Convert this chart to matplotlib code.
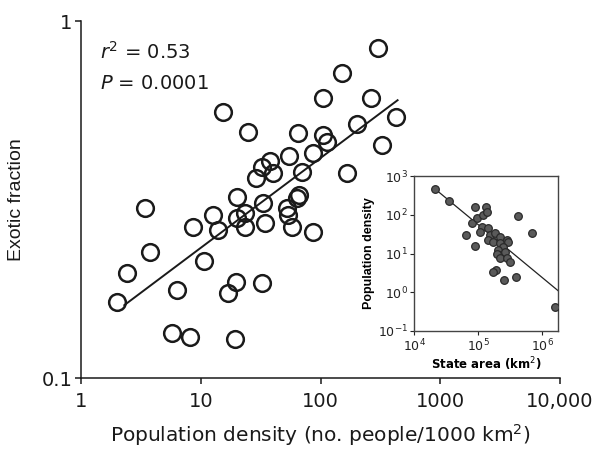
import matplotlib
matplotlib.use('Agg')
import matplotlib.pyplot as plt
import numpy as np

# main panel: exotic fraction vs population density (one circle per state)
pop_density = [2.0, 2.4, 3.4, 3.8, 6.3, 5.8, 8.1, 8.6, 10.6, 12.6,
               13.9, 15.3, 16.8, 19.6, 19.2, 20.0, 20.0, 23.3, 23.3, 24.6,
               28.7, 32.2, 32.9, 32.2, 34.1, 37.6, 39.8, 52.1, 53.1, 54.1,
               57.3, 63.1, 66.0, 64.3, 69.5, 85.8, 85.8, 104, 104, 114,
               150, 165, 203, 266, 304, 329, 430]
exotic_frac = [0.163, 0.197, 0.30, 0.225, 0.176, 0.134, 0.130, 0.265, 0.213, 0.286,
               0.260, 0.556, 0.173, 0.186, 0.129, 0.321, 0.281, 0.290, 0.265, 0.489,
               0.363, 0.390, 0.309, 0.185, 0.272, 0.405, 0.375, 0.299, 0.286, 0.419,
               0.265, 0.319, 0.325, 0.485, 0.378, 0.427, 0.256, 0.608, 0.479, 0.458,
               0.714, 0.375, 0.514, 0.608, 0.84, 0.45, 0.538]

# regression line end points
fit_x = [2.3, 440]
fit_y = [0.16, 0.60]

x_ticks = [1, 10, 100, 1000, 10000]
x_tick_labels = ['1', '10', '100', '1000', '10,000']
y_ticks = [0.1, 1]
y_tick_labels = ['0.1', '1']

# inset: population density vs state area
state_area = [21300, 35200, 64900, 89800, 420000, 690000, 190000, 171000, 255000, 390000,
              237000, 1550000,
              89800, 133000, 80600, 96000, 120000, 138000, 115000, 143000, 107000, 154000,
              184000, 143000, 171000, 221000, 221000, 284000, 294000, 246000, 205000, 221000,
              198000, 264000, 221000, 284000, 316000]
state_density = [462, 226, 30, 15.6, 93, 34, 3.75, 3.3, 2.07, 2.5,
                 9.1, 0.42,
                 158, 158, 61, 82, 99, 118, 48, 45, 36, 30,
                 34, 22, 19.8, 26.7, 18.7, 22, 19.8, 14.7, 12.3, 9.1,
                 9.7, 10.9, 7.7, 7.7, 6.0]

inset_fit_x = [21300, 1750000]
inset_fit_y = [462, 1.1]

inset_x_ticks = [1e4, 1e5, 1e6]
inset_x_labels = ['$10^4$', '$10^5$', '$10^6$']
inset_y_ticks = [1e-1, 1e0, 1e1, 1e2, 1e3]
inset_y_labels = ['$10^{-1}$', '$10^0$', '$10^1$', '$10^2$', '$10^3$']

plt.rcParams['font.family'] = ['DejaVu Sans']
plt.rcParams['mathtext.fontset'] = 'dejavusans'

fig = plt.figure(figsize=(6.02, 4.54), dpi=100)
ax = fig.add_axes([0.1346, 0.1674, 0.7957, 0.7863])

ax.plot(fit_x, fit_y, color='#1a1a1a', lw=1.4, zorder=2)
ax.plot(pop_density, exotic_frac, 'o', ms=12, mfc='none', mec='#1a1a1a', mew=1.8, zorder=3)

ax.set_xscale('log')
ax.set_yscale('log')
ax.set_xlim(1, 10000)
ax.set_ylim(0.1, 1)
ax.set_xticks(x_ticks)
ax.set_xticklabels(x_tick_labels)
ax.set_yticks(y_ticks)
ax.set_yticklabels(y_tick_labels)
ax.minorticks_off()

for side in ['top', 'right']:
    ax.spines[side].set_visible(False)
for side in ['left', 'bottom']:
    ax.spines[side].set_linewidth(1.1)
    ax.spines[side].set_color('#1a1a1a')

ax.tick_params(axis='both', which='major', direction='out', length=4, width=1.1,
               labelsize=14, colors='#1a1a1a')
ax.tick_params(axis='x', pad=6)
ax.tick_params(axis='y', pad=2)

ax.set_xlabel('Population density (no. people/1000 km$^2$)', fontsize=14.5, color='#1a1a1a', labelpad=8)
ax.set_ylabel('Exotic fraction', fontsize=14, color='#1a1a1a', family='Liberation Sans', labelpad=12)

# stats
ax.text(0.04, 0.895, '$r^2$ = 0.53', transform=ax.transAxes, fontsize=14, color='#1a1a1a', va='baseline')
ax.text(0.04, 0.81, '$P$ = 0.0001', transform=ax.transAxes, fontsize=14, color='#1a1a1a', va='baseline')

# inset
ins = fig.add_axes([0.688, 0.271, 0.239, 0.341])
ins.plot(inset_fit_x, inset_fit_y, color='#222222', lw=0.9, zorder=2)
ins.plot(state_area, state_density, 'o', ms=5.5, mfc='#5a5a5a', mec='#2a2a2a', mew=0.9, zorder=3)
ins.set_xscale('log')
ins.set_yscale('log')
ins.set_xlim(1e4, 1.75e6)
ins.set_ylim(1e-1, 1e3)
ins.set_xticks(inset_x_ticks)
ins.set_xticklabels(inset_x_labels)
ins.set_yticks(inset_y_ticks)
ins.set_yticklabels(inset_y_labels)
ins.minorticks_off()
ins.tick_params(axis='both', direction='out', length=3, width=0.8, labelsize=9, pad=1.5,
                colors='#222222')
for side in ins.spines:
    ins.spines[side].set_linewidth(1.0)
    ins.spines[side].set_color('#444444')
ins.set_xlabel('State area (km$^2$)', fontsize=8.5, fontweight='bold', labelpad=1)
ins.set_ylabel('Population density', fontsize=9, fontweight='bold', family='Liberation Sans', labelpad=2)

plt.savefig('out.png', dpi=100)
plt.close()
